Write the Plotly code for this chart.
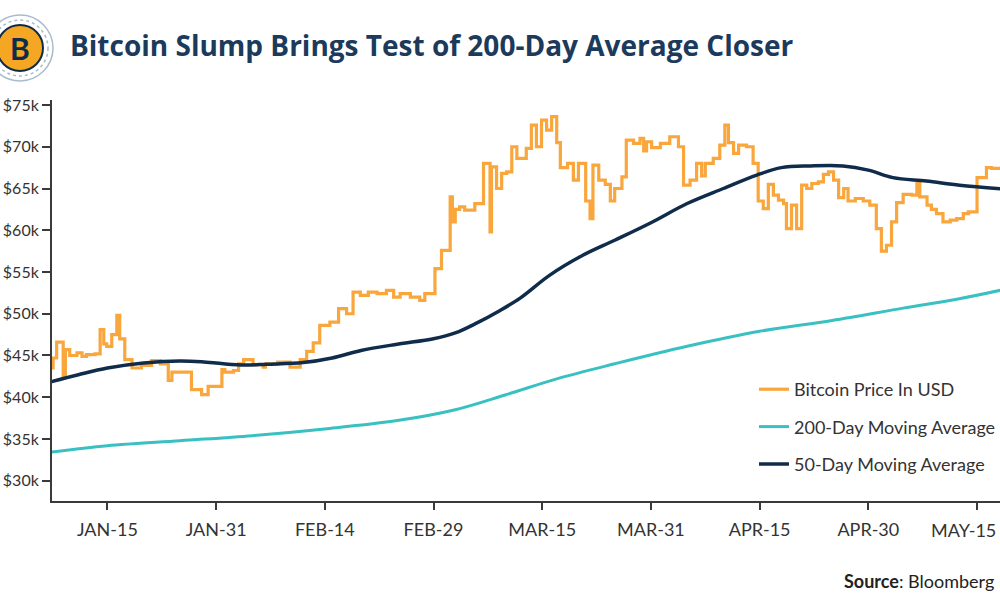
import plotly.graph_objects as go

# ---------------- data ----------------
TICK_DAYS = [0, 15, 30, 45, 60, 75, 90, 105, 120]
TICK_LABELS = ["JAN-15", "JAN-31", "FEB-14", "FEB-29", "MAR-15",
               "MAR-31", "APR-15", "APR-30", "MAY-15"]

# Bitcoin price (thousand USD), days relative to Jan-15
PRICE_DAY = [-8.0, -7.5, -7.0, -6.1, -5.8, -5.2, -4.2, -3.5, -2.9, -1.7, -1.0, -0.5, -0.1,
             0.6, 1.3, 1.7, 2.4, 3.4, 4.7, 6.1, 7.3, 8.4, 8.9, 11.6, 13.0, 13.9, 15.8,
             16.2, 17.4, 18.1, 18.8, 20.1, 21.5, 21.8, 23.5, 25.2, 26.6, 27.5, 28.4,
             29.3, 30.7, 31.9, 33.0, 33.9, 34.9, 36.0, 37.2, 38.5, 39.5, 40.4, 41.8,
             43.1, 43.8, 45.2, 46.1, 47.3, 47.6, 48.0, 48.6, 49.3, 50.7, 51.9, 52.8,
             53.0, 53.7, 54.4, 55.1, 55.8, 56.5, 57.8, 58.5, 59.2, 59.9, 60.6, 61.3,
             62.0, 62.5, 63.5, 64.3, 65.0, 66.0, 66.6, 67.0, 67.8, 68.7, 69.4, 70.0,
             71.0, 71.6, 72.6, 73.5, 74.0, 74.4, 75.1, 76.3, 77.6, 78.8, 79.5, 80.4,
             81.3, 82.0, 82.5, 83.6, 84.5, 85.2, 85.7, 86.4, 87.1, 88.2, 89.1, 89.8,
             90.5, 91.2, 91.9, 92.6, 93.3, 93.7, 94.4, 95.1, 95.8, 96.5, 97.2, 98.1,
             98.8, 99.5, 100.2, 100.9, 101.6, 102.2, 103.2, 104.3, 105.2, 106.1, 106.8,
             107.5, 108.2, 108.9, 109.8, 111.0, 111.7, 112.1, 113.1, 113.7, 114.4,
             115.3, 116.3, 117.2, 118.1, 118.8, 120.0, 121.3, 122.0, 124.0]
PRICE_K = [43.5, 44.7, 46.6, 42.6, 45.7, 45.0, 45.3, 44.9, 45.1, 45.2, 48.1, 46.4, 46.1,
           47.5, 49.8, 47.0, 44.5, 43.5, 43.8, 44.4, 44.0, 42.0, 43.0, 40.9, 40.3, 41.3, 43.3,
           43.0, 43.2, 44.0, 44.5, 43.9, 43.6, 44.0, 44.2, 43.6, 44.5, 45.5, 46.5,
           48.6, 49.0, 50.6, 50.0, 52.6, 52.2, 52.6, 52.4, 52.8, 52.0, 52.4, 52.0,
           51.6, 52.4, 55.4, 57.6, 64.0, 61.0, 62.5, 62.8, 62.4, 63.2, 68.0, 59.8,
           67.6, 65.0, 66.8, 67.0, 70.0, 68.6, 69.8, 72.6, 70.0, 73.2, 72.0, 73.6,
           70.5, 67.5, 68.0, 66.0, 68.0, 63.5, 61.4, 67.8, 66.0, 65.5, 63.5, 65.0,
           66.4, 70.8, 70.4, 71.0, 69.5, 70.6, 69.9, 70.4, 71.2, 70.0, 65.4, 66.0,
           68.0, 66.5, 68.0, 68.6, 70.2, 72.6, 70.5, 69.2, 70.2, 70.0, 68.0, 63.5,
           62.6, 65.5, 64.2, 63.6, 63.2, 60.2, 63.0, 60.2, 65.4, 65.0, 65.6, 65.8,
           66.7, 67.0, 66.0, 63.9, 65.0, 63.5, 63.8, 63.5, 63.0, 60.2, 57.5,
           58.2, 61.0, 63.3, 64.3, 64.2, 65.6, 64.0, 63.0, 62.5, 62.0,
           61.0, 61.2, 61.4, 62.0, 62.2, 66.3, 67.5, 67.4, 67.4]

# 50-day moving average (thousand USD)
MA50_DAY = [-8, -4, 0, 5, 10, 13, 16, 19, 22, 27, 31, 35, 40, 45, 48, 51, 54, 57, 61,
            65.6, 70, 75, 80, 85, 89.6, 93, 97, 101.5, 105, 108.4, 113, 117.6, 124]
MA50_K = [41.8, 42.7, 43.5, 44.1, 44.35, 44.25, 44.0, 43.85, 43.95, 44.15, 44.7, 45.6,
          46.35, 47.0, 47.7, 48.9, 50.3, 51.9, 54.6, 57.0, 58.8, 60.9, 63.2, 65.0, 66.6,
          67.5, 67.7, 67.7, 67.2, 66.3, 65.9, 65.4, 64.9]

# 200-day moving average (thousand USD)
MA200_DAY = [-8, 0, 10, 20, 30, 40, 48, 55, 62, 70, 80, 90, 100, 110, 117, 124]
MA200_K = [33.4, 34.2, 34.8, 35.4, 36.2, 37.2, 38.5, 40.3, 42.2, 44.0, 46.1, 47.9,
           49.2, 50.7, 51.7, 52.95]

# ---------------- styling ----------------
ORANGE = "#F9A63C"
TEAL = "#38C0C2"
NAVY = "#0F2C4B"
TITLE_C = "#1B3A5C"
AXIS_C = "#3a3a3a"
FONT = "Lato"

W, H = 1000, 600
PL, PT, PW, PH = 52, 100, 948, 401   # plot area in pixels


def px_x(x):
    return (x - PL) / PW


def px_y(y):
    return (PT + PH - y) / PH


fig = go.Figure()
fig.add_trace(go.Scatter(x=MA200_DAY, y=MA200_K, mode="lines", name="200-Day Moving Average",
                         line=dict(color=TEAL, width=3, shape="spline", smoothing=1.0),
                         legendrank=2, legendgroup="b"))
fig.add_trace(go.Scatter(x=PRICE_DAY, y=PRICE_K, mode="lines", name="Bitcoin Price In USD",
                         line=dict(color=ORANGE, width=3.2, shape="hv"),
                         legendrank=1, legendgroup="a"))
fig.add_trace(go.Scatter(x=MA50_DAY, y=MA50_K, mode="lines", name="50-Day Moving Average",
                         line=dict(color=NAVY, width=3.5, shape="spline", smoothing=1.0),
                         legendrank=3, legendgroup="c"))

x_lo = (PL - 107.4) / 7.247
x_hi = (PL + PW - 107.4) / 7.247

# last tick label is written as an annotation so that it stays inside the page
axis_ticktext = TICK_LABELS[:-1] + [""]

fig.update_layout(
    width=W, height=H,
    template="none",
    paper_bgcolor="white", plot_bgcolor="white",
    margin=dict(l=PL, r=W - PL - PW, t=PT, b=H - PT - PH, autoexpand=False),
    font=dict(family=FONT, color="#333333"),
    xaxis=dict(range=[x_lo, x_hi], tickmode="array", tickvals=TICK_DAYS, ticktext=axis_ticktext,
               showgrid=False, zeroline=False, showline=True, linecolor=AXIS_C, linewidth=2,
               ticks="outside", ticklen=7, tickwidth=1.5, tickcolor=AXIS_C,
               tickfont=dict(size=18, color="#333333", family=FONT),
               ticklabelstandoff=4, automargin=False),
    yaxis=dict(range=[27.57, 75.6], tick0=30, dtick=5, tickprefix="$", ticksuffix="k",
               showgrid=False, zeroline=False, showline=True, linecolor=AXIS_C, linewidth=2,
               ticks="outside", ticklen=8, tickwidth=1.5, tickcolor=AXIS_C,
               tickfont=dict(size=16, color="#333333", family=FONT), automargin=False),
    showlegend=True,
    legend=dict(x=px_x(754), y=px_y(371), xanchor="left", yanchor="top",
                bgcolor="rgba(0,0,0,0)", font=dict(size=18, color="#333333", family=FONT),
                tracegroupgap=11, itemwidth=30),
)

fig.add_annotation(x=px_x(998), y=px_y(530), xref="paper", yref="paper",
                   text=TICK_LABELS[-1], showarrow=False, xanchor="right", yanchor="middle",
                   font=dict(size=18, color="#333333", family=FONT))

# logo
cx, cy = px_x(20), px_y(48)
for r, fill, lc, lw, dash in [(33, "white", "#A9BBCD", 1.5, "solid"),
                              (28, "white", "#A9BBCD", 1.5, "dot"),
                              (23, "#F5A623", NAVY, 2.0, "solid")]:
    fig.add_shape(type="circle", xref="paper", yref="paper", xsizemode="pixel", ysizemode="pixel",
                  xanchor=cx, yanchor=cy, x0=-r, x1=r, y0=-r, y1=r,
                  fillcolor=fill, line=dict(color=lc, width=lw, dash=dash), layer="above")
fig.add_annotation(x=cx, y=cy, xref="paper", yref="paper", text="<b>B</b>", showarrow=False,
                   font=dict(size=30, color=NAVY, family=FONT), xanchor="center", yanchor="middle")

# title
fig.add_annotation(x=px_x(68), y=px_y(45), xref="paper", yref="paper",
                   text="<b>Bitcoin Slump Brings Test of 200-Day Average Closer</b>",
                   showarrow=False, xanchor="left", yanchor="middle",
                   font=dict(size=28, color=TITLE_C, family="Open Sans"))

# source
fig.add_annotation(x=px_x(996), y=px_y(581), xref="paper", yref="paper",
                   text="<b>Source</b>: Bloomberg", showarrow=False, xanchor="right",
                   yanchor="middle", font=dict(size=18, color="#222222", family=FONT))

fig.write_html("out.html",
               config={"displayModeBar": False},
               post_script="document.body.style.margin='0px';document.body.style.overflow='hidden';")
